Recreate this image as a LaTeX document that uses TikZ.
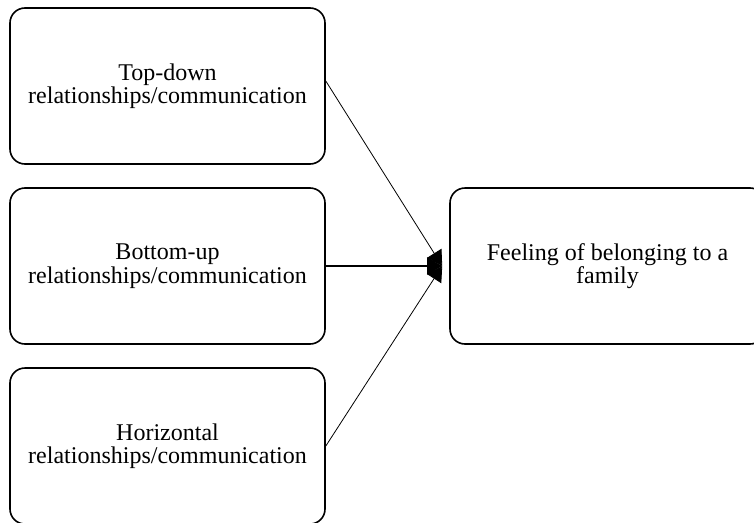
\documentclass[tikz,border=0pt]{standalone}
\usepackage{fontspec}
\setmainfont{Liberation Serif}
\usetikzlibrary{arrows.meta}
\begin{document}
\begin{tikzpicture}[x=1pt,y=-1pt,
  box/.style={draw, line width=1.6pt, rounded corners=15pt, minimum width=315pt,
    minimum height=156pt, inner sep=0pt, align=center,
    font=\fontsize{24}{23.5}\selectfont},
  arr/.style={line width=0.8pt, -{Triangle[length=15pt,width=17pt]}},
  arrthick/.style={line width=1.6pt, -{Triangle[length=15pt,width=17pt]}}]
\useasboundingbox (0,0) rectangle (754,522);
\node[box] (b1) at (167.5,86) {Top-down\\relationships/communication};
\node[box] (b2) at (167.5,266) {Bottom-up\\relationships/communication};
\node[box] (b3) at (167.5,446) {Horizontal\\relationships/communication};
\node[box] (f) at (607.5,266) {Feeling of belonging to a\\family};
\coordinate (tip) at ([xshift=-7pt]f.west);
\draw[arr] ([yshift=5pt]b1.east) -- (tip);
\draw[arrthick] (b2.east) -- (tip);
\draw[arr] (b3.east) -- (tip);
\end{tikzpicture}
\end{document}
